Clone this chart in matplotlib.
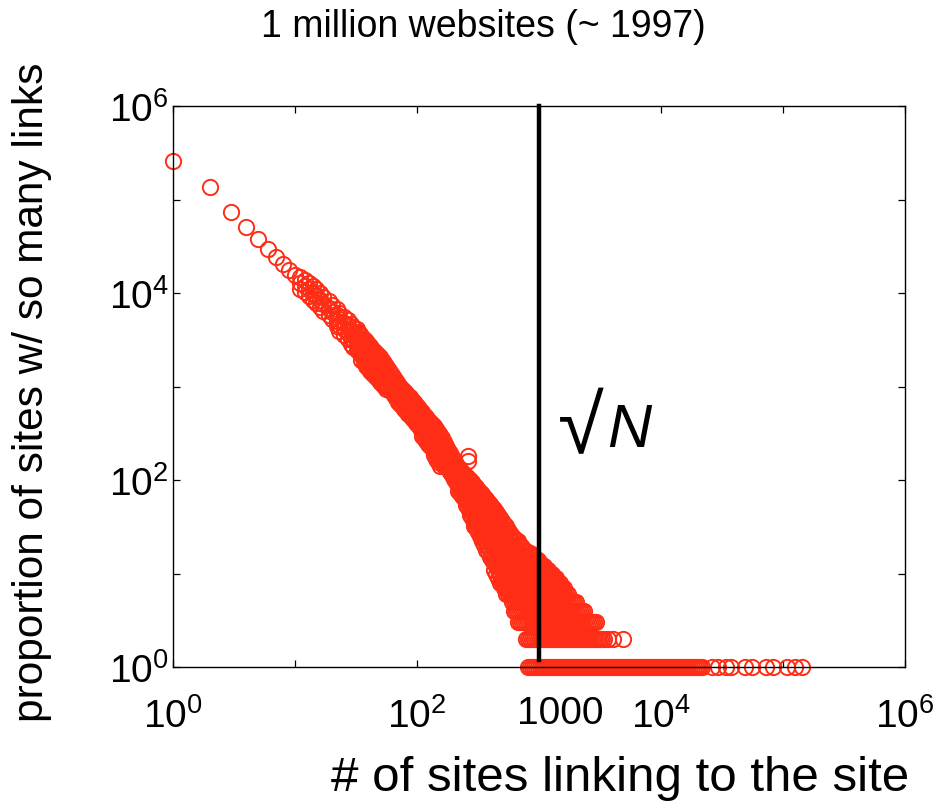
import numpy as np
import matplotlib
matplotlib.use("Agg")
import matplotlib.pyplot as plt

plt.rcParams['font.family'] = ['Liberation Sans', 'DejaVu Sans']
plt.rcParams['mathtext.fontset'] = 'custom'
plt.rcParams['mathtext.rm'] = 'Liberation Sans'
plt.rcParams['mathtext.it'] = 'Liberation Sans:italic'

RED = '#ff2d16'

# in-links k -> number of sites with k links, first few degrees one by one
head_k = [1, 2, 3, 4, 5, 6, 7, 8, 9, 10]
head_n = [258000, 136000, 73500, 50800, 37800, 29500, 24000, 20500, 17500, 15500]

# the thick part of the cloud: for each degree, the counts found around it
band_k = [11, 12, 13, 14, 15, 16, 17, 19, 20, 22, 23, 25, 27, 29, 30, 32, 33, 34,
          35, 37, 38, 40, 41, 43, 44, 46, 48, 50, 52, 54, 56, 58, 60, 62, 65, 67,
          70, 73, 75, 78, 81, 84, 88, 91, 94, 98, 102, 106, 110, 114, 118, 123,
          128, 133, 138, 143, 149, 154, 160, 166, 173, 180, 186, 194, 201, 209,
          217, 225, 234, 243, 252, 262, 272, 282, 293, 305, 316, 328, 341, 354,
          368, 382, 397, 412, 428, 444, 461, 479, 497, 517, 536, 557, 579, 601,
          624, 648, 673, 699, 726, 754, 782, 813, 844, 877, 910, 945, 981, 1019,
          1058, 1099, 1141, 1185, 1231, 1278, 1327, 1378, 1431, 1486, 1544, 1603,
          1665, 1729, 1795, 1864, 1936, 2010, 2088, 2168, 2252, 2338, 2428, 2521,
          2618, 2719, 2823, 2932, 3045, 3162]
band_n = [
    [14800, 12800, 11000],
    [13800, 11900, 10200],
    [12800, 11000, 9300],
    [11900, 10000, 8400],
    [11000, 9300, 7800],
    [10000, 8400, 7100],
    [9100, 7600, 6400],
    [8200, 6900, 5800],
    [7400, 6300, 5300],
    [6700, 5800, 5000, 4400],
    [6100, 5300, 4550, 3900],
    [5500, 4800, 4100, 3550],
    [5150, 4450, 3750, 3200],
    [4650, 3900, 3300, 2850],
    [4330, 3640, 3140, 2650],
    [4100, 3450, 2900, 2450],
    [3830, 3220, 2780, 2400],
    [3650, 3150, 2700, 2350],
    [3470, 2920, 2520, 2170, 1920],
    [3200, 2800, 2400, 2050, 1830],
    [3070, 2580, 2230, 1920, 1655],
    [2850, 2450, 2100, 1830, 1580],
    [2710, 2340, 2020, 1740, 1465],
    [2520, 2170, 1870, 1620, 1390],
    [2400, 2070, 1785, 1540, 1330],
    [2280, 1970, 1700, 1460, 1260],
    [2170, 1875, 1615, 1395, 1200],
    [2070, 1780, 1540, 1300, 1120],
    [1920, 1655, 1430, 1235, 1065],
    [1780, 1540, 1330, 1145, 1010],
    [1655, 1430, 1235, 1065, 940],
    [1540, 1330, 1150, 990],
    [1430, 1235, 1065, 918],
    [1330, 1170, 1010, 870],
    [1235, 1090, 940, 810],
    [1150, 990, 850, 755],
    [1065, 920, 790, 685],
    [990, 850, 735, 650],
    [940, 830, 715, 620],
    [895, 770, 665, 575],
    [850, 735, 635, 545],
    [790, 685, 590, 510],
    [770, 665, 575, 495],
    [715, 620, 535, 460],
    [685, 590, 510, 440],
    [635, 545, 470, 405],
    [605, 520, 450, 385],
    [560, 485, 415, 360],
    [535, 460, 395, 345, 295],
    [495, 430, 370, 320, 280],
    [470, 405, 350, 305, 260],
    [440, 380, 325, 280, 243],
    [415, 360, 310, 268, 232],
    [395, 345, 295, 255, 220],
    [380, 325, 280, 243, 210, 185],
    [350, 305, 260, 225, 195, 168],
    [325, 280, 243, 209, 181, 156],
    [305, 260, 225, 190, 164, 141],
    [280, 243, 204, 176, 152],
    [255, 220, 190, 163, 142],
    [231, 199, 172, 145],
    [210, 181, 156, 134],
    [195, 168, 145, 122],
    [176, 152, 131, 113],
    [164, 141, 122, 103],
    [148, 128, 110, 95],
    [138, 119, 103, 88, 76],
    [128, 110, 95, 82, 73],
    [122, 105, 91, 78, 67],
    [116, 100, 86, 74, 64],
    [110, 95, 82, 71, 61, 54],
    [105, 91, 78, 67, 58, 50],
    [100, 86, 74, 64, 55, 48, 42],
    [95, 82, 71, 61, 53, 46, 39],
    [88, 76, 66, 57, 49, 42, 36, 32],
    [84, 73, 63, 54, 47, 40, 35, 31],
    [78, 67, 58, 50, 43, 37, 32, 28],
    [74, 64, 55, 48, 41, 36, 30, 25],
    [71, 61, 53, 46, 39, 34, 29, 25, 22],
    [66, 57, 49, 42, 36, 31, 27, 23, 20],
    [63, 54, 47, 40, 35, 29, 25, 22, 18],
    [58, 50, 43, 37, 32, 28, 24, 20, 17],
    [55, 48, 41, 35, 30, 25, 21, 18, 15],
    [51, 44, 38, 32, 27, 22, 19, 16, 14],
    [49, 42, 36, 30, 25, 21, 18, 15, 13, 11],
    [45, 39, 34, 29, 24, 20, 17, 14, 12, 10],
    [42, 36, 31, 26, 22, 18, 15, 13, 11, 9],
    [39, 34, 29, 24, 20, 17, 14, 12, 10, 8],
    [36, 31, 27, 22, 19, 16, 13, 11, 9, 8],
    [34, 29, 25, 21, 17, 15, 12, 10, 8, 7],
    [32, 27, 23, 20, 17, 14, 12, 10, 8, 7, 6],
    [29, 25, 21, 18, 15, 13, 11, 9, 7, 6],
    [27, 23, 20, 16, 14, 12, 10, 8, 7, 6],
    [25, 22, 18, 15, 13, 11, 9, 7, 6, 5],
    [24, 20, 17, 14, 12, 10, 8, 7, 6, 5, 4],
    [23, 19, 16, 13, 11, 9, 8, 6, 5, 4],
    [22, 18, 15, 13, 11, 9, 8, 7, 6, 5, 4, 3],
    [20, 17, 14, 12, 10, 8, 7, 6, 5, 4, 3],
    [19, 16, 14, 12, 10, 9, 7, 6, 5, 4, 3],
    [18, 15, 13, 11, 9, 8, 7, 6, 5, 4, 3],
    [17, 15, 13, 11, 10, 8, 7, 6, 5, 4, 3, 2],
    [17, 14, 12, 10, 9, 7, 6, 5, 4, 3, 2],
    [16, 14, 12, 11, 9, 8, 7, 6, 5, 4, 3, 2],
    [16, 13, 11, 10, 8, 7, 6, 5, 4, 3, 2],
    [15, 13, 11, 10, 9, 8, 7, 6, 5, 4, 3, 2],
    [14, 12, 10, 9, 8, 7, 6, 5, 4, 3, 2],
    [14, 12, 10, 9, 8, 7, 6, 5, 4, 3, 2],
    [13, 11, 9, 8, 7, 6, 5, 4, 3, 2],
    [12, 11, 10, 8, 7, 6, 5, 4, 3, 2],
    [12, 10, 9, 7, 6, 5, 4, 3, 2],
    [11, 10, 9, 8, 7, 6, 5, 4, 3, 2],
    [11, 9, 8, 7, 6, 5, 4, 3, 2],
    [10, 9, 8, 7, 6, 5, 4, 3, 2],
    [10, 8, 7, 6, 5, 4, 3, 2],
    [9, 8, 7, 6, 5, 4, 3, 2],
    [9, 8, 7, 6, 5, 4, 3, 2],
    [8, 7, 6, 5, 4, 3, 2],
    [8, 7, 6, 5, 4, 3, 2],
    [7, 6, 5, 4, 3, 2],
    [7, 6, 5, 4, 3, 2],
    [6, 5, 4, 3, 2],
    [6, 5, 4, 3, 2],
    [5, 4, 3, 2],
    [5, 4, 3, 2],
    [5, 4, 3, 2],
    [5, 4, 3, 2],
    [4, 3, 2],
    [4, 3, 2],
    [4, 3, 2],
    [4, 3, 2],
    [3, 2],
    [3, 2],
    [3, 2],
    [3, 2],
    [3, 2],
    [3, 2],
    [2],
    [2],
]

# degrees seen exactly twice, past the main cloud
twice_k = [3284, 3410, 3680, 4020, 4900]

# degrees seen only once
once_k = [813, 844, 877, 910, 945, 981, 1019, 1058, 1099, 1141, 1185, 1231, 1278,
          1327, 1378, 1431, 1486, 1544, 1603, 1665, 1729, 1795, 1864, 1936, 2010,
          2088, 2168, 2252, 2338, 2428, 2521, 2618, 2719, 2823, 2932, 3045, 3162,
          3284, 3410, 3541, 3677, 3819, 3965, 4119, 4276, 4441, 4611, 4790, 4973,
          5166, 5362, 5570, 5780, 6007, 6240, 6478, 6720, 6986, 7250, 7534, 7820,
          8124, 8440, 8762, 9100, 9449, 9810, 10190, 10580, 10990, 11410, 11850,
          12300, 12780, 13270, 13780, 14310, 14860, 15430, 16030, 16640, 17280,
          17950, 18640, 19360, 20100, 20880, 21680,
          26200, 29300, 34100, 37500, 48800, 55700, 72600, 82800, 108000, 125000,
          143000]

# a couple of stray points above the cloud
stray_k = [263, 263]
stray_n = [180, 158]

N_SITES = 1e6

xs = list(head_k) + list(stray_k)
ys = list(head_n) + list(stray_n)
for k, col in zip(band_k, band_n):
    xs += [k] * len(col)
    ys += col
xs += twice_k
ys += [2] * len(twice_k)
xs += once_k
ys += [1] * len(once_k)

fig = plt.figure(figsize=(9.44, 8.03), dpi=100)
ax = fig.add_axes([173 / 944, 1 - 668 / 803, (905 - 173) / 944, (668 - 107) / 803])

ax.plot(xs, ys, 'o', mfc='none', mec=RED, ms=11, mew=1.4, clip_on=False, zorder=2)

# sqrt(N) marker
ax.plot([np.sqrt(N_SITES), np.sqrt(N_SITES)], [1.2, N_SITES], color='black', lw=3.2,
        zorder=5, clip_on=False)

ax.set_xscale('log')
ax.set_yscale('log')
ax.set_xlim(1, 1e6)
ax.set_ylim(1, 1e6)

decades = [10 ** i for i in range(7)]
ax.set_xticks(decades)
ax.set_xticklabels(['$10^{0}$', '', '$10^{2}$', '', '$10^{4}$', '', '$10^{6}$'])
ax.set_yticks(decades)
ax.set_yticklabels(['$10^{0}$', '', '$10^{2}$', '', '$10^{4}$', '', '$10^{6}$'])
ax.minorticks_off()
ax.tick_params(which='both', direction='in', top=True, right=True, length=5,
               width=0.9, labelsize=28)
ax.tick_params(axis='x', pad=22)
ax.tick_params(axis='y', pad=3)
for s in ax.spines.values():
    s.set_linewidth(1.0)

ax.annotate('1000', xy=(1000, 1), xycoords='data', xytext=(21, -28),
            textcoords='offset pixels', ha='center', va='top', fontsize=28,
            annotation_clip=False)

fig.text(483 / 944, 1 - 27 / 803, '1 million websites (~ 1997)', ha='center',
         va='center', fontsize=27)
fig.text(32 / 944, 1 - 392 / 803, 'proportion of sites w/ so many links',
         rotation=90, ha='center', va='center', fontsize=30.5)
fig.text(620 / 944, 1 - 779 / 803, '# of sites linking to the site',
         ha='center', va='center', fontsize=35.5)

fig.text(604 / 944, 1 - 453 / 803, '\u221a', ha='right', va='baseline', fontsize=60,
         family=['Liberation Sans'])
fig.text(607 / 944, 1 - 447 / 803, 'N', ha='left', va='baseline', fontsize=44,
         style='italic')

fig.savefig('out.png', dpi=100)
